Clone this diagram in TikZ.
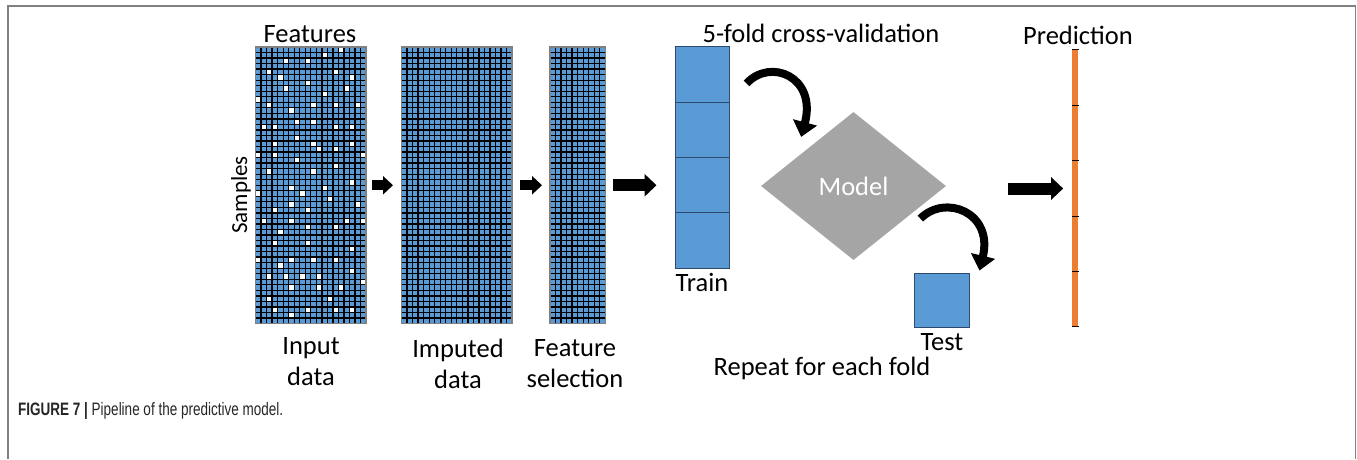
\documentclass[tikz,border=0pt]{standalone}
\usepackage{fontspec}
\setmainfont{Carlito}
\newfontfamily\capfont{Liberation Sans}
\usetikzlibrary{arrows.meta,shapes.geometric}
\definecolor{cellblue}{HTML}{5B9BD5}
\definecolor{boxline}{HTML}{2E4A6E}
\definecolor{modelgray}{HTML}{A5A5A5}
\definecolor{predorange}{HTML}{ED7D31}
\definecolor{framegray}{HTML}{808080}
\begin{document}
\begin{tikzpicture}[x=1pt,y=-1pt,
  lbl/.style={font=\fontsize{26.5}{31}\selectfont, align=center, inner sep=0},
  gridbox/.style={rectangle, inner sep=0, outer sep=0, anchor=north west},
  gridline/.style={black, line width=1.3pt},
  gridborder/.style={framegray, line width=1.3pt},
  foldbox/.style={rectangle, draw=boxline, line width=1pt, fill=cellblue, inner sep=0, minimum width=54pt, minimum height=55.25pt},
  smallarrow/.style={line width=10pt, -{Triangle[length=10pt, width=18pt]}},
  bigarrow/.style={line width=12pt, -{Triangle[length=12pt, width=22pt]}},
  curvearrow/.style={line width=8pt, -{Triangle[length=15pt, width=24pt]}},
]
\useasboundingbox (0,0) rectangle (1357,459);
% frame
\draw[framegray, line width=1.6pt] (8,459) -- (8,6) -- (1355.5,6) -- (1355.5,459);

% grids
\node[gridbox, minimum width=110.6pt, minimum height=276.5pt] (input) at (255.5,47) {};
\node[gridbox, minimum width=110.6pt, minimum height=276.5pt] (imputed) at (401.5,47) {};
\node[gridbox, minimum width=55.3pt, minimum height=276.5pt] (featsel) at (550,47) {};

\fill[cellblue] (input.north west) rectangle (input.south east);
\begin{scope}[shift={(input.north west)}]
  \foreach \c/\r in {15/0,12/1,5/2,9/2,2/4,14/4,4/5,17/5,9/6,5/7,16/7,12/8,0/9,
     2/10,10/10,14/10,18/10,6/11,7/13,10/13,1/14,3/14,14/14,17/14,7/16,
     3/17,10/17,17/17,11/18,14/18,0/19,3/19,19/19,7/20,14/21,2/22,10/22,
     17/24,6/25,12/25,0/26,8/26,13/27,6/28,18/28,3/29,9/29,
     1/31,6/31,16/31,19/31,9/32,14/32,4/33,3/35,9/35,17/36,
     0/38,6/38,10/38,14/38,4/39,17/40,2/41,5/41,8/41,11/41,19/42,
     6/43,11/43,15/43,2/45,13/45,3/47,9/47,14/47,17/47,6/48}
    \fill[white] (\c*5.53,\r*5.53) rectangle ++(5.53,5.53);
  \foreach \i in {0,...,20} \draw[gridline] (\i*5.53,0) -- (\i*5.53,276.5);
  \foreach \j in {0,...,50} \draw[gridline] (0,\j*5.53) -- (110.6,\j*5.53);
\end{scope}
\draw[gridborder] (input.north west) rectangle (input.south east);

\fill[cellblue] (imputed.north west) rectangle (imputed.south east);
\begin{scope}[shift={(imputed.north west)}]
  \foreach \i in {0,...,20} \draw[gridline] (\i*5.53,0) -- (\i*5.53,276.5);
  \foreach \j in {0,...,50} \draw[gridline] (0,\j*5.53) -- (110.6,\j*5.53);
\end{scope}
\draw[gridborder] (imputed.north west) rectangle (imputed.south east);

\fill[cellblue] (featsel.north west) rectangle (featsel.south east);
\begin{scope}[shift={(featsel.north west)}]
  \foreach \i in {0,...,10} \draw[gridline] (\i*5.53,0) -- (\i*5.53,276.5);
  \foreach \j in {0,...,50} \draw[gridline] (0,\j*5.53) -- (55.3,\j*5.53);
\end{scope}
\draw[gridborder] (featsel.north west) rectangle (featsel.south east);

% labels
\node[lbl] (featlbl) at (310,34) {Features};
\node[lbl, rotate=90, font=\fontsize{23}{27}\selectfont] (samples) at (241,195) {Samples};
\node[lbl] (inlbl) at (311,362) {Input\\data};
\node[lbl] (implbl) at (458,364) {Imputed\\data};
\node[lbl] (fslbl) at (575,364) {Feature\\selection};
\node[lbl] (cvlbl) at (821,33) {5-fold cross-validation};
\node[lbl] (trainlbl) at (702,282) {Train};
\node[lbl] (testlbl) at (942,342) {Test};
\node[lbl] (replbl) at (822,368) {Repeat for each fold};
\node[lbl] (predlbl) at (1078,35) {Prediction};

% train folds
\node[foldbox] (t1) at (702,74.6) {};
\node[foldbox] (t2) at (702,129.9) {};
\node[foldbox] (t3) at (702,185.1) {};
\node[foldbox] (t4) at (702,240.4) {};

% test
\node[foldbox, minimum width=55pt, minimum height=54pt] (test) at (941.5,300) {};

% model
\node[diamond, fill=modelgray, minimum width=185pt, minimum height=148pt, inner sep=0,
      text=white, font=\fontsize{26.5}{30}\selectfont] (model) at (853.5,186) {Model};

% prediction bar
\node[rectangle, fill=predorange, minimum width=5.3pt, minimum height=277pt, inner sep=0] (pred) at (1075,188.5) {};
\begin{scope}[shift={(pred.north)}]
  \foreach \k in {0,...,5} \draw[black, line width=0.9pt] (-3.5,\k*55.4) -- (3.5,\k*55.4);
\end{scope}

% arrows
\draw[smallarrow, shorten <=6pt, shorten >=8.5pt] (input.east) -- (imputed.west);
\draw[smallarrow, shorten <=8pt, shorten >=8pt] (imputed.east) -- (featsel.west);
\draw[bigarrow, shorten <=8pt, shorten >=18pt] (featsel.east) -- (featsel.east -| t1.west);
\draw[bigarrow, shorten <=62pt, shorten >=9pt] (model.east |- pred.west) -- (pred.west);
\draw[curvearrow] ([xshift=17pt,yshift=-37pt]t1.north east) .. controls +(24,-26) and +(16,-60) .. ([xshift=-6pt,yshift=12pt]model.north west);
\draw[curvearrow] ([xshift=20.5pt,yshift=4.5pt]model.south east) .. controls +(25,-25) and +(14,-58) .. ([xshift=10pt,yshift=2pt]test.north east);

% caption
\node[anchor=west, inner sep=0, text=black!85, font=\capfont\fontsize{18}{21}\selectfont] (caption) at (18,411)
  {\scalebox{0.75}[1]{\textbf{FIGURE 7 |} Pipeline of the predictive model.}};
\end{tikzpicture}
\end{document}
